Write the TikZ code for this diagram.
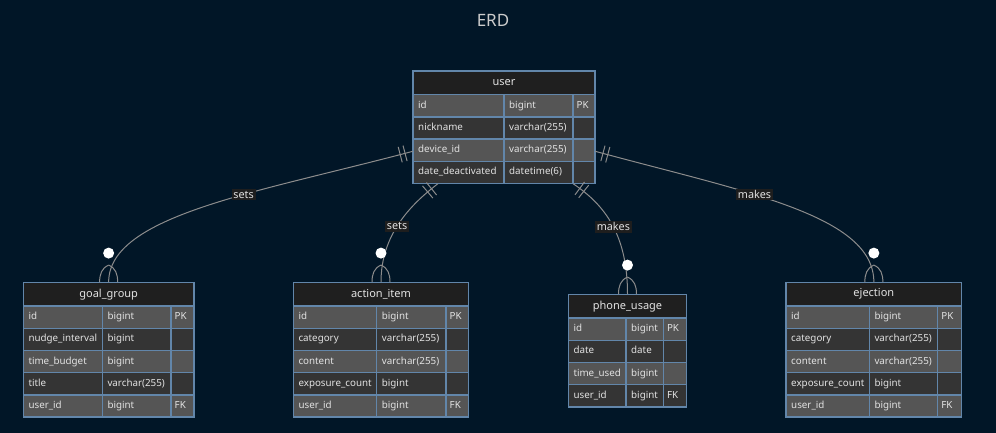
\documentclass[tikz,border=0pt]{standalone}
\usepackage{fontspec}
\setmainfont{Noto Sans}
\usetikzlibrary{calc,fit,decorations.markings}

\definecolor{bgnavy}{RGB}{1,22,39}
\definecolor{hdrbg}{RGB}{31,31,31}
\definecolor{rowA}{RGB}{85,85,85}
\definecolor{rowB}{RGB}{52,52,52}
\definecolor{tblline}{RGB}{98,134,170}
\definecolor{txtlight}{RGB}{226,226,226}
\definecolor{titlegrey}{RGB}{204,204,204}
\definecolor{relline}{RGB}{140,140,140}
\definecolor{lblbg}{RGB}{30,30,30}

\tikzset{
  cellbox/.style={draw=tblline, line width=1.4pt},
  celltxt/.style={anchor=west, inner sep=0pt, text=txtlight, font=\fontsize{9.8}{11}\selectfont, text height=7pt, text depth=2pt},
  hdrtxt/.style={inner sep=0pt, text=txtlight, font=\fontsize{11}{13}\selectfont},
  rel/.style={draw=relline, line width=1pt},
  onemark/.style={postaction={decorate}, decoration={markings,
      mark=at position 8pt with {\draw[rel] (0pt,-8pt) -- (0pt,8pt);},
      mark=at position 13pt with {\draw[rel] (0pt,-8pt) -- (0pt,8pt);}}},
  lbl/.style={fill=lblbg, text=txtlight, inner sep=1.8pt, font=\fontsize{10.8}{12}\selectfont},
}

% name, title, left, top, col1, col2, right, rows, fields
\newcommand{\erdtable}[9]{%
  \draw[cellbox, fill=hdrbg] (#3,#4) rectangle (#7,#4+23.8);
  \node[hdrtxt] at ({(#3+#7)/2},#4+11.9) {#2};
  \foreach \a/\b/\c [count=\i] in {#9} {
    \pgfmathsetmacro\ytop{#4+23.8+(\i-1)*22.2}
    \pgfmathsetmacro\ybot{\ytop+22.2}
    \pgfmathsetmacro\ymid{\ytop+11.1}
    \ifodd\i \def\rowcol{rowA}\else\def\rowcol{rowB}\fi
    \draw[cellbox, fill=\rowcol] (#3,\ytop) rectangle (#5,\ybot);
    \draw[cellbox, fill=\rowcol] (#5,\ytop) rectangle (#6,\ybot);
    \draw[cellbox, fill=\rowcol] (#6,\ytop) rectangle (#7,\ybot);
    \node[celltxt] at (#3+5,\ymid) {\a};
    \node[celltxt] at (#5+5,\ymid) {\b};
    \node[celltxt] at (#6+3.5,\ymid) {\c};
  }
  \pgfmathsetmacro\ybottom{#4+23.8+#8*22.2}
  \node[fit={(#3,#4) (#7,\ybottom)}, inner sep=0pt] (#1) {};
}

% circle and crow's foot above a table
\newcommand{\manyend}[1]{%
  \draw[rel] ($(#1.north)+(0,-17)$) .. controls ($(#1.north)+(-7,-14)$) and ($(#1.north)+(-9,-8)$) .. ($(#1.north)+(-9,0)$);
  \draw[rel] ($(#1.north)+(0,-17)$) .. controls ($(#1.north)+(7,-14)$) and ($(#1.north)+(9,-8)$) .. ($(#1.north)+(9,0)$);
  \fill[white] ($(#1.north)+(0,-29)$) circle[radius=5.5];
}

\begin{document}
\begin{tikzpicture}[x=1pt,y=-1pt]
  \fill[bgnavy] (0,0) rectangle (996,433);
  \useasboundingbox (0,0) rectangle (996,433);

  \node[font=\fontsize{17}{20}\selectfont, text=titlegrey] (title) at (493,20) {ERD};

  % tables
  \erdtable{user}{user}{413}{71}{504}{573}{595}{4}{id/bigint/PK, nickname/varchar(255)/{}, device\_id/varchar(255)/{}, date\_deactivated/datetime(6)/{}}
  \erdtable{goalgroup}{goal\_group}{23.3}{282.3}{102.3}{171}{194}{5}{id/bigint/PK, nudge\_interval/bigint/{}, time\_budget/bigint/{}, title/varchar(255)/{}, user\_id/bigint/FK}
  \erdtable{actionitem}{action\_item}{293.3}{282.3}{376.7}{446}{468.7}{5}{id/bigint/PK, category/varchar(255)/{}, content/varchar(255)/{}, exposure\_count/bigint/{}, user\_id/bigint/FK}
  \erdtable{phoneusage}{phone\_usage}{568.3}{294.3}{626}{663.3}{686.7}{4}{id/bigint/PK, date/date/{}, time\_used/bigint/{}, user\_id/bigint/FK}
  \erdtable{ejection}{ejection}{786}{282.3}{869.3}{937.7}{961.7}{5}{id/bigint/PK, category/varchar(255)/{}, content/varchar(255)/{}, exposure\_count/bigint/{}, user\_id/bigint/FK}

  % relations
  \draw[rel, onemark] ($(user.west)+(0,24)$) .. controls (260,192) and (108.7,215) .. (goalgroup.north)
    node[lbl, pos=0.39] {sets};
  \draw[rel, onemark] ($(user.south west)+(25,0)$) .. controls (410,205) and (381,235) .. (actionitem.north)
    node[lbl, pos=0.53] {sets};
  \draw[rel, onemark] ($(user.south east)+(-22,0)$) .. controls (605,205) and (627.5,235) .. (phoneusage.north)
    node[lbl, pos=0.52] {makes};
  \draw[rel, onemark] ($(user.east)+(0,24)$) .. controls (745,192) and (873.8,215) .. (ejection.north)
    node[lbl, pos=0.39] {makes};

  \manyend{goalgroup}
  \manyend{actionitem}
  \manyend{phoneusage}
  \manyend{ejection}
\end{tikzpicture}
\end{document}
